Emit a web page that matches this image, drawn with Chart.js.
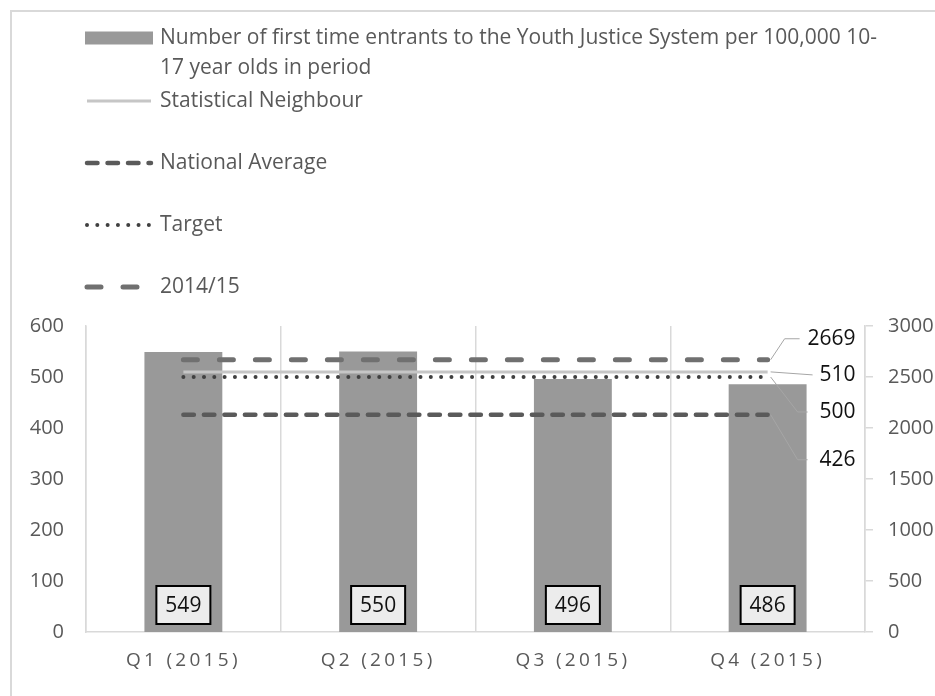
<!DOCTYPE html>
<html>
<head>
<meta charset="utf-8">
<script src="https://cdn.jsdelivr.net/npm/chart.js@4"></script>
<style>
  html, body { margin: 0; padding: 0; background: #fff; overflow: hidden; }
  #moldura { position: absolute; left: 10px; top: 10px; width: 1000px; height: 1000px;
             border-left: 2px solid #d9d9d9; border-top: 2px solid #d9d9d9; }
  #caixa { position: absolute; left: 0; top: 0; width: 960px; height: 696px; }
</style>
</head>
<body>
<div id="moldura"></div>
<div id="caixa"><canvas id="grafico" width="960" height="696"></canvas></div>
<script>
// === Dados ===
const categorias = ['Q1 (2015)', 'Q2 (2015)', 'Q3 (2015)', 'Q4 (2015)'];
const entrantes = [549, 550, 496, 486];
const vizinhoEstatistico = [510, 510, 510, 510];
const mediaNacional = [426, 426, 426, 426];
const meta = [500, 500, 500, 500];
const anoAnterior = [2669, 2669, 2669, 2669];
const ticksEsquerda = { min: 0, max: 600, passo: 100 };
const ticksDireita = { min: 0, max: 3000, passo: 500 };

const FONTE = 'Open Sans';
const CINZA_TEXTO = '#595959';
const CINZA_EIXO = '#d9d9d9';

Chart.defaults.font.family = FONTE;
Chart.defaults.font.size = 20;
Chart.defaults.color = CINZA_TEXTO;

// quebra texto em linhas (permite quebrar depois de hifen)
function quebrarTexto(ctx, texto, largura) {
  const pedacos = texto.match(/[^\s-]+-?|\s+/g);
  const linhas = [];
  let linha = '';
  for (const p of pedacos) {
    const teste = linha + p;
    if (ctx.measureText(teste.trimEnd()).width > largura && linha.trim() !== '') {
      linhas.push(linha.trimEnd());
      linha = p.trimStart();
    } else {
      linha = teste;
    }
  }
  if (linha.trim() !== '') linhas.push(linha.trimEnd());
  return linhas;
}

// === Legenda vertical ===
const legendaPlugin = {
  id: 'legenda',
  afterDraw(chart, args, opts) {
    const ctx = chart.ctx;
    ctx.save();
    ctx.font = `${opts.tamanho}px ${FONTE}`;
    ctx.textBaseline = 'middle';
    chart.data.datasets.forEach((ds, i) => {
      const y = opts.linhas[i];
      if (ds.type === 'bar') {
        ctx.fillStyle = ds.backgroundColor;
        ctx.fillRect(opts.x0, y - 6.5, opts.x1 - opts.x0, 13);
      } else {
        ctx.beginPath();
        ctx.strokeStyle = ds.borderColor;
        ctx.lineWidth = ds.borderWidth;
        ctx.setLineDash(ds.borderDash || []);
        ctx.lineCap = ds.borderCapStyle || 'butt';
        ctx.moveTo(opts.x0 + 2, y);
        ctx.lineTo(opts.x1 - 2, y);
        ctx.stroke();
        ctx.setLineDash([]);
      }
      ctx.fillStyle = CINZA_TEXTO;
      const linhas = quebrarTexto(ctx, ds.label, opts.largura);
      linhas.forEach((l, k) => ctx.fillText(l, opts.xTexto, y + k * opts.alturaLinha));
    });
    ctx.restore();
  }
};

// === Rotulos das barras (caixa na base) ===
const rotulosBarras = {
  id: 'rotulosBarras',
  afterDatasetsDraw(chart) {
    const ctx = chart.ctx;
    const base = chart.scales.y.getPixelForValue(0);
    const m = chart.getDatasetMeta(0);
    ctx.save();
    ctx.font = `21px ${FONTE}`;
    ctx.textAlign = 'center';
    ctx.textBaseline = 'middle';
    m.data.forEach((barra, i) => {
      const w = 54, h = 38;
      const x = barra.x - w / 2, y = base - 8 - h;
      ctx.fillStyle = '#ececec';
      ctx.fillRect(x, y, w, h);
      ctx.strokeStyle = '#000';
      ctx.lineWidth = 2;
      ctx.strokeRect(x, y, w, h);
      ctx.fillStyle = '#111';
      ctx.fillText(String(chart.data.datasets[0].data[i]), barra.x, y + h / 2 + 1);
    });
    ctx.restore();
  }
};

// === Rotulos no fim das linhas, com linha de chamada ===
const rotulosLinhas = {
  id: 'rotulosLinhas',
  afterDatasetsDraw(chart, args, opts) {
    const ctx = chart.ctx;
    ctx.save();
    ctx.font = `21px ${FONTE}`;
    ctx.textBaseline = 'middle';
    ctx.textAlign = 'right';
    opts.itens.forEach(item => {
      const m = chart.getDatasetMeta(item.ds);
      const pt = m.data[m.data.length - 1];
      const ds = chart.data.datasets[item.ds];
      const texto = String(ds.data[ds.data.length - 1]);
      const direita = pt.x + opts.dx;
      const esquerda = direita - ctx.measureText(texto).width;
      const yl = pt.y + item.dy;
      ctx.beginPath();
      ctx.strokeStyle = '#a6a6a6';
      ctx.lineWidth = 1;
      ctx.moveTo(pt.x + 3, pt.y);
      if (item.dobra) ctx.lineTo(pt.x + item.dobra, yl);
      ctx.lineTo(esquerda - item.folga, yl);
      ctx.stroke();
      ctx.fillStyle = '#111';
      ctx.fillText(texto, direita, yl);
    });
    ctx.restore();
  }
};

const ctx = document.getElementById('grafico').getContext('2d');
const grafico = new Chart(ctx, {
  type: 'bar',
  data: {
    labels: categorias,
    datasets: [
      {
        type: 'bar',
        label: 'Number of first time entrants to the Youth Justice System per 100,000 10-17 year olds in period',
        data: entrantes,
        backgroundColor: '#999999',
        categoryPercentage: 1,
        barPercentage: 0.4,
        yAxisID: 'y',
        order: 10
      },
      {
        type: 'line',
        label: 'Statistical Neighbour',
        data: vizinhoEstatistico,
        borderColor: '#c6c6c6',
        borderWidth: 3,
        pointRadius: 0,
        yAxisID: 'y',
        order: 4
      },
      {
        type: 'line',
        label: 'National Average',
        data: mediaNacional,
        borderColor: '#5a5a5a',
        borderWidth: 4.5,
        borderDash: [10.5, 10],
        borderCapStyle: 'round',
        pointRadius: 0,
        yAxisID: 'y',
        order: 3
      },
      {
        type: 'line',
        label: 'Target',
        data: meta,
        borderColor: '#404040',
        borderWidth: 4,
        borderDash: [0.01, 10.3],
        borderCapStyle: 'round',
        pointRadius: 0,
        yAxisID: 'y',
        order: 2
      },
      {
        type: 'line',
        label: '2014/15',
        data: anoAnterior,
        borderColor: '#707070',
        borderWidth: 5,
        borderDash: [14, 22],
        borderCapStyle: 'round',
        pointRadius: 0,
        yAxisID: 'y1',
        order: 1
      }
    ]
  },
  options: {
    responsive: false,
    animation: false,
    events: [],
    layout: { padding: { top: 326, left: 0, right: 0, bottom: 0 } },
    plugins: {
      legend: { display: false },
      tooltip: { enabled: false },
      legenda: { tamanho: 21, x0: 85, x1: 153, xTexto: 160, largura: 725, alturaLinha: 30, linhas: [38, 101, 163, 225, 287] },
      rotulosLinhas: {
        dx: 88,
        itens: [
          { ds: 4, dy: -21, dobra: 17, folga: 8 },
          { ds: 1, dy: 3, dobra: 0, folga: 7 },
          { ds: 3, dy: 35, dobra: 30, folga: 12 },
          { ds: 2, dy: 45, dobra: 30, folga: 12 }
        ]
      }
    },
    scales: {
      x: {
        offset: true,
        grid: { display: true, offset: true, color: CINZA_EIXO, lineWidth: 1.5, drawTicks: false },
        border: { display: true, color: CINZA_EIXO, width: 1.5 },
        ticks: { font: { size: 19 }, color: CINZA_TEXTO, padding: 17 },
        afterFit(s) { s.height = 64; }
      },
      y: {
        position: 'left',
        min: ticksEsquerda.min,
        max: ticksEsquerda.max,
        grid: { display: false, drawTicks: false },
        border: { display: true, color: CINZA_EIXO, width: 1.5 },
        ticks: { stepSize: ticksEsquerda.passo, padding: 22, color: CINZA_TEXTO, callback: v => String(v) },
        afterFit(s) { s.width = 86; }
      },
      y1: {
        position: 'right',
        min: ticksDireita.min,
        max: ticksDireita.max,
        grid: { display: true, drawOnChartArea: false, drawTicks: true, tickLength: 8, color: CINZA_EIXO, lineWidth: 1.5 },
        border: { display: true, color: CINZA_EIXO, width: 1.5 },
        ticks: { stepSize: ticksDireita.passo, padding: 15, color: CINZA_TEXTO, callback: v => String(v) },
        afterFit(s) { s.width = 95; }
      }
    }
  },
  plugins: [legendaPlugin, rotulosBarras, rotulosLinhas]
});

// espacamento entre letras nos rotulos do eixo x
const eixoX = grafico.scales.x;
const desenharOriginal = eixoX.drawLabels.bind(eixoX);
eixoX.drawLabels = function (area) {
  grafico.ctx.save();
  grafico.ctx.letterSpacing = '3.3px';
  desenharOriginal(area);
  grafico.ctx.restore();
};
grafico.draw();
</script>
</body>
</html>
